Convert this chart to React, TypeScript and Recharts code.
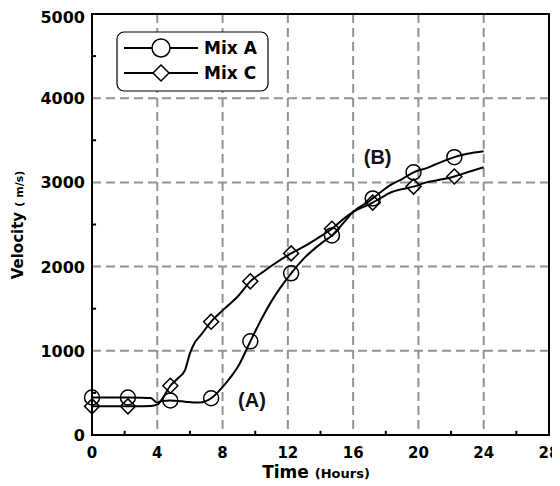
import { ComposedChart, Line, Scatter, XAxis, YAxis, CartesianGrid, ReferenceArea, ReferenceLine, ReferenceDot, Legend } from 'recharts';

// measured curves (hours, velocity m/s)
const hours = [0, 1, 2.2, 3, 3.6, 4, 4.3, 4.8, 5.3, 5.7, 6, 6.3, 6.6, 7.3, 8, 9, 9.7, 10.5, 11, 12.2, 13, 14, 14.7, 15.5, 16, 17, 17.2, 18, 18.3, 19, 19.7, 20.5, 21, 22.2, 23, 24];
const mixA = [445, 445, 445, 443, 438, 385, 405, 410, 405, 395, 390, 385, 385, 436, 570, 830, 1112, 1420, 1590, 1920, 2100, 2270, 2370, 2540, 2650, 2780, 2810, 2930, 2970, 3040, 3120, 3170, 3210, 3300, 3340, 3370];
const mixC = [340, 340, 340, 342, 345, 360, 430, 585, 680, 770, 970, 1100, 1170, 1346, 1480, 1660, 1825, 1940, 2010, 2157, 2240, 2360, 2450, 2580, 2650, 2740, 2760, 2850, 2880, 2920, 2950, 3000, 3020, 3070, 3120, 3180];

// symbol positions
const markHours = [0, 2.2, 4.8, 7.3, 9.7, 12.2, 14.7, 17.2, 19.7, 22.2];
const markA = [445, 445, 410, 436, 1112, 1920, 2370, 2810, 3120, 3300];
const markC = [340, 340, 585, 1346, 1825, 2157, 2450, 2760, 2950, 3070];

const xTicks = [0, 4, 8, 12, 16, 20, 24, 28];
const yTicks = [0, 1000, 2000, 3000, 4000, 5000];
const xMinor = [2, 6, 10, 14, 18, 22, 26];
const yMinor = [500, 1500, 2500, 3500, 4500];

const curveData = hours.map((h, i) => ({ h, a: mixA[i], c: mixC[i] }));
const marksA = markHours.map((h, i) => ({ h, v: markA[i] }));
const marksC = markHours.map((h, i) => ({ h, v: markC[i] }));

const FONT = '"DejaVu Sans", Arial, sans-serif';
const ARIAL = '"Liberation Sans", Arial, sans-serif';

const CircleMark = (p: any) => (
  <circle cx={p.cx} cy={p.cy} r={7.5} fill="none" stroke="#000" strokeWidth={1.5} />
);

const DiamondMark = (p: any) => {
  const s = 7.5;
  return (
    <polygon
      points={`${p.cx},${p.cy - s} ${p.cx + s},${p.cy} ${p.cx},${p.cy + s} ${p.cx - s},${p.cy}`}
      fill="none"
      stroke="#000"
      strokeWidth={1.5}
    />
  );
};

const XTick = ({ x, y, payload }: any) => (
  <text x={x} y={y + 23} textAnchor="middle" fontFamily={FONT} fontWeight="bold" fontSize={15} fill="#000">
    {payload.value}
  </text>
);

const YTick = ({ x, y, payload }: any) => (
  <text x={x} y={y + 6} textAnchor="end" fontFamily={FONT} fontWeight="bold" fontSize={16} fill="#000">
    {payload.value}
  </text>
);

const LegendBox = () => (
  <svg width={153} height={61}>
    <rect x={1} y={1} width={151} height={59} rx={7} fill="#fff" stroke="#000" strokeWidth={1.2} />
    <line x1={8} x2={82} y1={17} y2={17} stroke="#000" strokeWidth={2} />
    <circle cx={45} cy={17} r={9} fill="#fff" stroke="#000" strokeWidth={1.5} />
    <text x={88} y={23} fontFamily={FONT} fontWeight="bold" fontSize={17}>Mix A</text>
    <line x1={8} x2={82} y1={42} y2={42} stroke="#000" strokeWidth={2} />
    <polygon points="45,34 53,42 45,50 37,42" fill="#fff" stroke="#000" strokeWidth={1.5} />
    <text x={88} y={48} fontFamily={FONT} fontWeight="bold" fontSize={17}>Mix C</text>
  </svg>
);

const xLabel = () => (
  <text x={308} y={470} textAnchor="middle" fontFamily={FONT} fill="#000">
    <tspan fontWeight="bold" fontSize={17}>Time </tspan>
    <tspan fontWeight="bold" fontSize={13}>(Hours)</tspan>
  </text>
);

const yLabel = () => (
  <text x={0} y={0} transform="translate(15, 217) rotate(-90)" textAnchor="middle" fontFamily={FONT} fill="#000">
    <tspan fontWeight="bold" fontSize={15}>Velocity </tspan>
    <tspan fontWeight="bold" fontSize={11}>( m/s)</tspan>
  </text>
);

export default function App() {
  return (
    <ComposedChart width={552} height={478} data={curveData} margin={{ top: 6, right: 11, left: 0, bottom: 0 }}>
      <CartesianGrid stroke="#929292" strokeWidth={2} strokeDasharray="9 5" />
      <XAxis
        dataKey="h"
        type="number"
        domain={[0, 28]}
        ticks={xTicks}
        height={51}
        axisLine={false}
        tickLine={false}
        tickSize={0}
        tickMargin={0}
        tick={<XTick />}
        label={{ content: xLabel }}
      />
      <YAxis
        type="number"
        domain={[0, 5000]}
        ticks={yTicks}
        width={84}
        axisLine={false}
        tickLine={false}
        tickSize={0}
        tickMargin={7}
        tick={<YTick />}
        label={{ content: yLabel }}
      />
      {xMinor.map(t => (
        <ReferenceLine key={'x' + t} segment={[{ x: t, y: 0 }, { x: t, y: 50 }]} stroke="#000" strokeWidth={2} />
      ))}
      {yMinor.map(v => (
        <ReferenceLine key={'y' + v} segment={[{ x: 0, y: v }, { x: 0.25, y: v }]} stroke="#000" strokeWidth={2} />
      ))}
      <ReferenceArea x1={0} x2={28} y1={0} y2={5000} fill="none" fillOpacity={0} stroke="#000" strokeWidth={2} />
      <Line type="monotone" dataKey="a" stroke="#000" strokeWidth={2} dot={false} isAnimationActive={false} legendType="none" />
      <Line type="monotone" dataKey="c" stroke="#000" strokeWidth={2} dot={false} isAnimationActive={false} legendType="none" />
      <Scatter data={marksA} dataKey="v" shape={<CircleMark />} isAnimationActive={false} legendType="none" />
      <Scatter data={marksC} dataKey="v" shape={<DiamondMark />} isAnimationActive={false} legendType="none" />
      <ReferenceDot x={9.8} y={415} r={0} label={{ value: '(A)', position: 'center', fontFamily: ARIAL, fontWeight: 'bold', fontSize: 20, fill: '#111' }} />
      <ReferenceDot x={17.5} y={3300} r={0} label={{ value: '(B)', position: 'center', fontFamily: ARIAL, fontWeight: 'bold', fontSize: 20, fill: '#111' }} />
      <Legend
        layout="vertical"
        align="center"
        verticalAlign="middle"
        content={<LegendBox />}
        wrapperStyle={{ left: 108, top: 23, width: 153, height: 61 }}
      />
    </ComposedChart>
  );
}
